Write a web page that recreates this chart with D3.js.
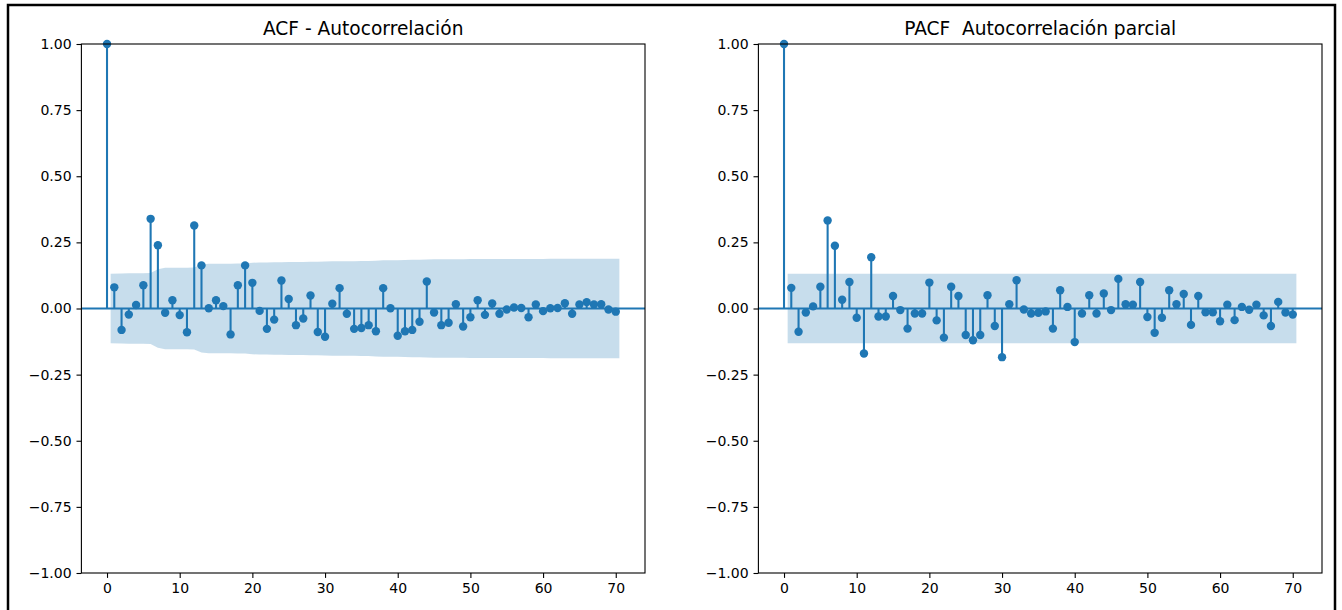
<!DOCTYPE html>
<html>
<head>
<meta charset="utf-8">
<script src="https://cdn.jsdelivr.net/npm/d3@7"></script>
<style>
  html, body { margin: 0; padding: 0; background: #fff; }
  svg { display: block; }
  text { font-family: "DejaVu Sans", sans-serif; }
</style>
</head>
<body>
<svg id="chart" width="1342" height="610"></svg>
<script>
// ---- data ----
const titles = ["ACF - Autocorrelación", "PACF  Autocorrelación parcial"];

// value at lag 0..70 (index = lag)
const acfValues = [1.0, 0.080, -0.081, -0.023, 0.013, 0.088, 0.339, 0.239, -0.016, 0.031,
  -0.025, -0.090, 0.314, 0.163, 0.001, 0.031, 0.009, -0.098, 0.088, 0.163,
  0.097, -0.009, -0.077, -0.042, 0.106, 0.036, -0.063, -0.038, 0.049, -0.089,
  -0.107, 0.018, 0.077, -0.020, -0.077, -0.074, -0.063, -0.086, 0.077, 0.001,
  -0.103, -0.086, -0.081, -0.050, 0.102, -0.015, -0.063, -0.054, 0.016, -0.068,
  -0.033, 0.031, -0.024, 0.019, -0.020, -0.004, 0.004, 0.002, -0.033, 0.015,
  -0.010, 0.001, 0.002, 0.020, -0.020, 0.015, 0.024, 0.015, 0.016, -0.004,
  -0.012];

// half-width of the confidence band at lag 1..70
const acfBand = [0.131, 0.132, 0.133, 0.133, 0.133, 0.134, 0.148, 0.154, 0.154, 0.154,
  0.154, 0.155, 0.166, 0.169, 0.169, 0.169, 0.169, 0.170, 0.170, 0.173,
  0.174, 0.174, 0.175, 0.175, 0.176, 0.176, 0.176, 0.177, 0.177, 0.178,
  0.179, 0.179, 0.179, 0.179, 0.180, 0.180, 0.181, 0.182, 0.182, 0.182,
  0.183, 0.184, 0.184, 0.185, 0.186, 0.186, 0.186, 0.186, 0.186, 0.187,
  0.187, 0.187, 0.187, 0.187, 0.187, 0.187, 0.187, 0.187, 0.187, 0.187,
  0.188, 0.188, 0.188, 0.188, 0.188, 0.188, 0.188, 0.188, 0.188, 0.188];

const pacfValues = [1.0, 0.078, -0.088, -0.015, 0.008, 0.082, 0.333, 0.237, 0.033, 0.100,
  -0.035, -0.170, 0.194, -0.030, -0.030, 0.047, -0.006, -0.076, -0.019, -0.019,
  0.098, -0.045, -0.110, 0.082, 0.047, -0.100, -0.120, -0.100, 0.050, -0.066,
  -0.184, 0.016, 0.107, -0.004, -0.019, -0.016, -0.011, -0.076, 0.069, 0.006,
  -0.127, -0.019, 0.050, -0.019, 0.057, -0.006, 0.112, 0.016, 0.014, 0.100,
  -0.032, -0.092, -0.035, 0.069, 0.016, 0.055, -0.062, 0.047, -0.014, -0.014,
  -0.048, 0.014, -0.044, 0.006, -0.005, 0.014, -0.026, -0.066, 0.025, -0.015,
  -0.023];

const pacfBand = [0.131, 0.131, 0.131, 0.131, 0.131, 0.131, 0.131, 0.131, 0.131, 0.131,
  0.131, 0.131, 0.131, 0.131, 0.131, 0.131, 0.131, 0.131, 0.131, 0.131,
  0.131, 0.131, 0.131, 0.131, 0.131, 0.131, 0.131, 0.131, 0.131, 0.131,
  0.131, 0.131, 0.131, 0.131, 0.131, 0.131, 0.131, 0.131, 0.131, 0.131,
  0.131, 0.131, 0.131, 0.131, 0.131, 0.131, 0.131, 0.131, 0.131, 0.131,
  0.131, 0.131, 0.131, 0.131, 0.131, 0.131, 0.131, 0.131, 0.131, 0.131,
  0.131, 0.131, 0.131, 0.131, 0.131, 0.131, 0.131, 0.131, 0.131, 0.131];

const xTicks = [0, 10, 20, 30, 40, 50, 60, 70];
const yTicks = [-1.0, -0.75, -0.5, -0.25, 0.0, 0.25, 0.5, 0.75, 1.0];

// ---- layout ----
const C0 = "#1f77b4";
const svg = d3.select("#chart");
svg.append("rect").attr("width", 1342).attr("height", 610).attr("fill", "#fff");

const axTop = 44, axBottom = 573;
const panels = [
  { left: 81.4, right: 645, title: titles[0], values: acfValues, band: acfBand },
  { left: 758.4, right: 1322, title: titles[1], values: pacfValues, band: pacfBand }
];

const y = d3.scaleLinear().domain([-1, 1]).range([axBottom, axTop]);

panels.forEach(p => {
  const x = d3.scaleLinear().domain([-3.525, 74.025]).range([p.left, p.right]);
  const g = svg.append("g");

  // confidence band
  const n = p.band.length;
  const bandPts = p.band.map((b, i) => {
    let lag = i + 1;
    if (i === 0) lag -= 0.5;
    if (i === n - 1) lag += 0.5;
    return { lag, b };
  });
  g.append("path")
    .datum(bandPts)
    .attr("d", d3.area().x(d => x(d.lag)).y0(d => y(-d.b)).y1(d => y(d.b)))
    .attr("fill", C0).attr("fill-opacity", 0.25).attr("stroke", "none");

  // stems
  const pts = p.values.map((v, i) => ({ lag: i, v }));
  g.selectAll("line.stem").data(pts).enter().append("line")
    .attr("class", "stem")
    .attr("x1", d => x(d.lag)).attr("x2", d => x(d.lag))
    .attr("y1", y(0)).attr("y2", d => y(d.v))
    .attr("stroke", C0).attr("stroke-width", 2.08);

  // markers
  g.selectAll("circle.pt").data(pts).enter().append("circle")
    .attr("class", "pt")
    .attr("cx", d => x(d.lag)).attr("cy", d => y(d.v))
    .attr("r", 4.2).attr("fill", C0);

  // zero line
  g.append("line")
    .attr("x1", p.left).attr("x2", p.right)
    .attr("y1", y(0)).attr("y2", y(0))
    .attr("stroke", C0).attr("stroke-width", 2.08);

  // axes
  const xAxis = d3.axisBottom(x).tickValues(xTicks).tickFormat(d3.format("d"))
    .tickSize(4.9).tickPadding(4.9);
  const yAxis = d3.axisLeft(y).tickValues(yTicks).tickFormat(d3.format(".2f"))
    .tickSize(4.9).tickPadding(4.9);

  const gx = svg.append("g").attr("transform", `translate(0,${axBottom})`).call(xAxis);
  const gy = svg.append("g").attr("transform", `translate(${p.left},0)`).call(yAxis);
  [gx, gy].forEach(a => {
    a.select(".domain").remove();
    a.selectAll(".tick line").attr("stroke", "#000").attr("stroke-width", 1.1);
    a.selectAll(".tick text").attr("fill", "#000")
      .style("font-family", "'DejaVu Sans', sans-serif").style("font-size", "14px");
  });

  // spines
  svg.append("rect")
    .attr("x", p.left).attr("y", axTop)
    .attr("width", p.right - p.left).attr("height", axBottom - axTop)
    .attr("fill", "none").attr("stroke", "#000").attr("stroke-width", 1.1);

  // title
  svg.append("text")
    .attr("x", (p.left + p.right) / 2).attr("y", 35)
    .attr("text-anchor", "middle")
    .style("white-space", "pre")
    .attr("xml:space", "preserve")
    .style("font-size", "18.6px").attr("fill", "#000")
    .text(p.title);
});

// outer frame of the screenshot
svg.append("path")
  .attr("d", "M8,615 L8,5 L1335,5 L1335,615")
  .attr("fill", "none").attr("stroke", "#000").attr("stroke-width", 2.5);
</script>
</body>
</html>
